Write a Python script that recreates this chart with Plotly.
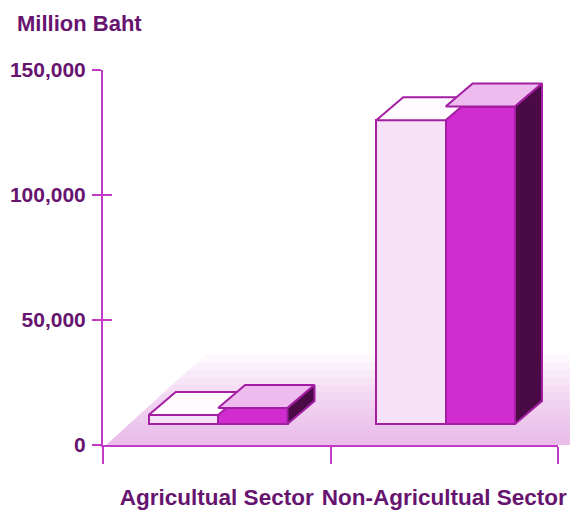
import plotly.graph_objects as go

# Loans by sector (million baht), two series per sector
categories = ["Agricultual Sector", "Non-Agricultual Sector"]
series_light = [3600, 121500]
series_dark = [6400, 127000]

y_ticks = [0, 50000, 100000, 150000]
y_tick_labels = ["0", "50,000", "100,000", "150,000"]

# --- styling / pseudo-3D geometry ---
LINE = "#a41ea4"
AXIS = "#c43ac8"
TEXT = "#661470"
FONT = "Liberation Sans, Arial, sans-serif"

BAR_W = 0.305        # bar width in x units
SHIFT = 0.006        # group offset from category centre
BASE = 8400          # front-face baseline sits slightly behind the axis
DX = 0.1187          # depth offset, x units
DY = 9200            # depth offset, y units

LIGHT_FRONT = "#f6e2f6"
LIGHT_TOP = "#fffbff"
DARK_FRONT = "#d02cd0"
DARK_TOP = "#edbbed"
DARK_SIDE = "#4a0a46"

fig = go.Figure()

light_x = [i + 0.5 + SHIFT - BAR_W / 2 for i in range(len(categories))]
dark_x = [i + 0.5 + SHIFT + BAR_W / 2 for i in range(len(categories))]

# front faces
fig.add_trace(go.Bar(
    x=light_x, y=series_light, base=[BASE] * len(series_light), width=BAR_W,
    marker=dict(color=LIGHT_FRONT, line=dict(color=LINE, width=2)),
    hoverinfo="skip", showlegend=False,
))
fig.add_trace(go.Bar(
    x=dark_x, y=series_dark, base=[BASE] * len(series_dark), width=BAR_W,
    marker=dict(color=DARK_FRONT, line=dict(color=LINE, width=2)),
    hoverinfo="skip", showlegend=False,
))


def top_face(xc, v, color):
    x0, x1 = xc - BAR_W / 2, xc + BAR_W / 2
    top = BASE + v
    return go.Scatter(
        x=[x0, x1, x1 + DX, x0 + DX, x0],
        y=[top, top, top + DY, top + DY, top],
        fill="toself", fillcolor=color, mode="lines",
        line=dict(color=LINE, width=2), yaxis="y2",
        hoverinfo="skip", showlegend=False,
    )


def side_face(xc, v, color):
    x1 = xc + BAR_W / 2
    top = BASE + v
    return go.Scatter(
        x=[x1, x1, x1 + DX, x1 + DX, x1],
        y=[BASE, top, top + DY, BASE + DY, BASE],
        fill="toself", fillcolor=color, mode="lines",
        line=dict(color=LINE, width=2), yaxis="y2",
        hoverinfo="skip", showlegend=False,
    )


for xc, v in zip(light_x, series_light):
    fig.add_trace(top_face(xc, v, LIGHT_TOP))
for xc, v in zip(dark_x, series_dark):
    fig.add_trace(top_face(xc, v, DARK_TOP))
    fig.add_trace(side_face(xc, v, DARK_SIDE))

# floor: stacked translucent parallelograms give a soft fade toward the back
shapes = []
N = 12
for k in range(1, N + 1):
    f = k / N
    x_left0, x_right = 0.007, 1.026
    depth_x, depth_y = 0.217 * f, 0.24 * f
    path = (f"M {x_left0},0 L {x_right},0 L {x_right},{depth_y} "
            f"L {x_left0 + depth_x},{depth_y} Z")
    shapes.append(dict(type="path", path=path, xref="paper", yref="paper",
                       fillcolor="rgb(224,130,224)", opacity=0.06,
                       line=dict(width=0), layer="below"))

fig.update_layout(
    width=570, height=512,
    margin=dict(l=103, r=12, t=70, b=67),
    paper_bgcolor="white", plot_bgcolor="rgba(0,0,0,0)",
    barmode="overlay", bargap=0,
    shapes=shapes,
    font=dict(family=FONT, color=TEXT),
    xaxis=dict(
        range=[0, 2], showgrid=False, zeroline=False, automargin=False,
        showline=True, linecolor=AXIS, linewidth=2,
        tickmode="array", tickvals=[0.5, 1.5], ticktext=categories,
        ticks="", ticklabelstandoff=31,
        tickfont=dict(family=FONT, size=22.5, color=TEXT, weight="bold"),
        minor=dict(tickmode="array", tickvals=[0, 1, 2], ticks="outside",
                   ticklen=17, tickwidth=2, tickcolor=AXIS, showgrid=False),
    ),
    yaxis=dict(
        range=[0, 150000], showgrid=False, zeroline=False, automargin=False,
        showline=True, linecolor=AXIS, linewidth=2,
        tickmode="array", tickvals=y_ticks, ticktext=y_tick_labels,
        ticks="outside", ticklen=9, tickwidth=2, tickcolor=AXIS,
        ticklabelstandoff=2,
        tickfont=dict(family=FONT, size=21, color=TEXT, weight="bold"),
    ),
    yaxis2=dict(
        range=[0, 150000], overlaying="y", side="left", automargin=False,
        showgrid=False, zeroline=False, showline=False,
        tickmode="array", tickvals=y_ticks, showticklabels=False,
        ticks="inside", ticklen=9, tickwidth=2, tickcolor=AXIS,
    ),
    annotations=[dict(
        text="Million Baht", xref="paper", yref="paper",
        x=-0.1934, y=1.123, xanchor="left", yanchor="middle",
        showarrow=False,
        font=dict(family=FONT, size=22, color=TEXT, weight="bold"),
    )],
)

fig.write_html("out.html")
